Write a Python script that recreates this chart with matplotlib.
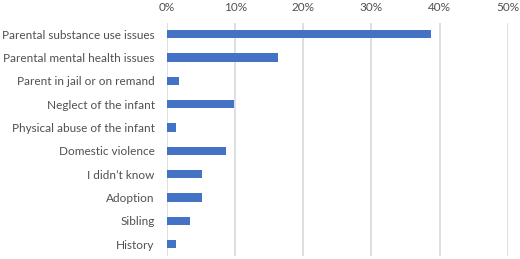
import matplotlib
matplotlib.use("Agg")
import matplotlib.pyplot as plt
from matplotlib.ticker import PercentFormatter

categories = ["Parental substance use issues", "Parental mental health issues",
              "Parent in jail or on remand", "Neglect of the infant",
              "Physical abuse of the infant", "Domestic violence",
              "I didn\u2019t know", "Adoption", "Sibling", "History"]
values = [38.8, 16.3, 1.7, 9.8, 1.3, 8.6, 5.2, 5.2, 3.4, 1.3]
xticks = [0, 10, 20, 30, 40, 50]

plt.rcParams['font.family'] = ['Lato', 'DejaVu Sans']
fig = plt.figure(figsize=(5.2, 2.59), dpi=100)
ax = fig.add_axes([0.3212, 0.0127, 0.6551, 0.9000])
y = list(range(len(categories)))
ax.barh(y, values, height=0.35, color="#4472C4", zorder=3)
ax.set_ylim(len(categories) - 0.5, -0.5)
ax.set_xlim(0, 50)
ax.set_xticks(xticks)
ax.xaxis.set_major_formatter(PercentFormatter(decimals=0))
ax.set_yticks(y)
ax.set_yticklabels(categories)
ax.xaxis.tick_top()
ax.tick_params(axis='both', length=0, labelsize=8.5, colors="#505050")
ax.tick_params(axis='y', pad=9)
ax.tick_params(axis='x', pad=7)
ax.grid(axis='x', color="#d9d9d9", linewidth=1.2, zorder=0)
for s in ax.spines.values():
    s.set_visible(False)
fig.savefig("out.png", dpi=100)
